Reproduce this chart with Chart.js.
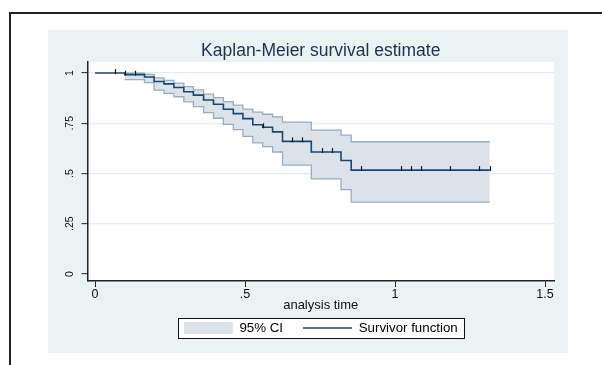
<!DOCTYPE html>
<html>
<head>
<meta charset="utf-8">
<script src="https://cdn.jsdelivr.net/npm/chart.js@4.4.1/dist/chart.umd.min.js"></script>
<style>
html, body { margin: 0; padding: 0; background: #fff; }
#wrap { position: relative; width: 602px; height: 365px; overflow: hidden; }
#frame { position: absolute; left: 9px; top: 12px; width: 700px; height: 500px;
         border-top: 2px solid #222; border-left: 2px solid #222; }
canvas { position: absolute; left: 0; top: 0; }
</style>
</head>
<body>
<div id="wrap">
  <div id="frame"></div>
  <canvas id="km" width="602" height="365"></canvas>
</div>
<script>
// Kaplan-Meier estimate (failure times and survivor values)
const kmTimes = [0, 0.099, 0.165, 0.197, 0.230, 0.263, 0.296, 0.328, 0.362, 0.395, 0.428,
                 0.461, 0.493, 0.526, 0.559, 0.592, 0.625, 0.721, 0.820, 0.854, 1.316];
const kmSurv  = [1, 0.992, 0.980, 0.958, 0.946, 0.928, 0.907, 0.890, 0.866, 0.845, 0.820,
                 0.798, 0.773, 0.743, 0.730, 0.707, 0.660, 0.607, 0.565, 0.517, 0.517];

// 95% CI, starts at first failure
const ciTimes = [0.099, 0.165, 0.197, 0.230, 0.263, 0.296, 0.328, 0.362, 0.395, 0.428,
                 0.461, 0.493, 0.526, 0.559, 0.592, 0.625, 0.721, 0.820, 0.854, 1.316];
const ciUpper = [0.999, 0.993, 0.976, 0.964, 0.950, 0.932, 0.916, 0.895, 0.878, 0.858,
                 0.840, 0.820, 0.806, 0.795, 0.782, 0.756, 0.716, 0.691, 0.658, 0.658];
const ciLower = [0.967, 0.952, 0.915, 0.899, 0.882, 0.857, 0.833, 0.803, 0.775, 0.745,
                 0.718, 0.685, 0.652, 0.634, 0.607, 0.542, 0.473, 0.420, 0.358, 0.358];

// censored observations
const censorTimes = [0.067, 0.099, 0.134, 0.559, 0.657, 0.691, 0.755, 0.789, 0.888,
                     1.019, 1.052, 1.086, 1.184, 1.281, 1.316];

const xTickValues = [0, 0.5, 1, 1.5];
const xTickLabels = ['0', '.5', '1', '1.5'];
const yTickValues = [0, 0.25, 0.5, 0.75, 1];
const yTickLabels = ['0', '.25', '.5', '.75', '1'];

const kmColor = '#1a476f';
const bandFill = '#dce2ea';
const bandLine = '#98adc2';
const panelColor = '#eaf2f3';
const fontName = '"Liberation Sans", Arial, sans-serif';

function toPoints(xs, ys) {
    return xs.map((x, i) => ({ x: x, y: ys[i] }));
}

function survAt(t) {
    let s = kmSurv[0];
    for (let i = 0; i < kmTimes.length; i++) {
        if (kmTimes[i] <= t + 1e-9) s = kmSurv[i];
    }
    return s;
}

function legendBox(chart) {
    const lg = chart.legend;
    if (!lg || !lg.legendHitBoxes || !lg.legendHitBoxes.length) return null;
    const hb = lg.legendHitBoxes;
    const last = hb[hb.length - 1];
    const cy = hb[0].top + hb[0].height / 2;
    const x = hb[0].left - 6;
    return { x: x, y: cy - 10, w: last.left + last.width + 6 - x, h: 20 };
}

// panel backgrounds, censor ticks, legend frame
const stataLook = {
    id: 'stataLook',
    beforeDraw(chart) {
        const { ctx, chartArea: a } = chart;
        ctx.save();
        ctx.fillStyle = panelColor;
        ctx.fillRect(48, 30, 520, 323);
        ctx.fillStyle = '#ffffff';
        ctx.fillRect(a.left, a.top, a.right - a.left, a.bottom - a.top);
        const box = legendBox(chart);
        if (box) ctx.fillRect(box.x, box.y, box.w, box.h);
        ctx.restore();
    },
    afterDatasetsDraw(chart) {
        const { ctx } = chart;
        const xs = chart.scales.x, ys = chart.scales.y;
        ctx.save();
        ctx.strokeStyle = '#101820';
        ctx.lineWidth = 1.2;
        censorTimes.forEach(t => {
            const px = Math.round(xs.getPixelForValue(t)) + 0.5;
            const py = ys.getPixelForValue(survAt(t));
            ctx.beginPath();
            ctx.moveTo(px, py + 1);
            ctx.lineTo(px, py - 4);
            ctx.stroke();
        });
        ctx.restore();
    },
    afterDraw(chart) {
        const box = legendBox(chart);
        if (!box) return;
        const { ctx } = chart;
        ctx.save();
        ctx.strokeStyle = '#111';
        ctx.lineWidth = 1;
        ctx.strokeRect(Math.round(box.x) + 0.5, Math.round(box.y) + 0.5, Math.round(box.w), Math.round(box.h));
        ctx.restore();
    }
};

new Chart(document.getElementById('km'), {
    type: 'line',
    data: {
        datasets: [
            {
                label: 'Survivor function',
                data: toPoints(kmTimes, kmSurv),
                stepped: 'before',
                borderColor: kmColor,
                borderWidth: 1.6,
                pointRadius: 0,
                fill: false
            },
            {
                label: 'upper',
                data: toPoints(ciTimes, ciUpper),
                stepped: 'before',
                borderColor: bandLine,
                borderWidth: 1.3,
                pointRadius: 0,
                fill: false
            },
            {
                label: '95% CI',
                data: toPoints(ciTimes, ciLower),
                stepped: 'before',
                borderColor: bandLine,
                borderWidth: 1.3,
                pointRadius: 0,
                backgroundColor: bandFill,
                fill: '-1'
            }
        ]
    },
    options: {
        responsive: false,
        animation: false,
        events: [],
        layout: { padding: { left: 0, right: 48, top: 30, bottom: 20.35 } },
        scales: {
            x: {
                type: 'linear',
                min: -0.025,
                max: 1.53,
                afterBuildTicks: s => { s.ticks = xTickValues.map(v => ({ value: v })); },
                afterFit: s => { s.height = 20.35; s.paddingLeft = 0; s.paddingRight = 0; },
                ticks: {
                    autoSkip: false, minRotation: 0, maxRotation: 0, padding: 0,
                    color: '#111', font: { family: fontName, size: 12.5 },
                    callback: (v, i) => xTickLabels[i]
                },
                grid: { drawOnChartArea: false, drawTicks: true, tickLength: 6, tickColor: '#222', tickWidth: 1 },
                border: { display: true, color: '#222', width: 1.5 },
                title: {
                    display: true, text: 'analysis time', color: '#111',
                    font: { family: fontName, size: 13 },
                    padding: { top: 0, bottom: -11.45 }
                }
            },
            y: {
                type: 'linear',
                min: -0.035,
                max: 1.055,
                afterBuildTicks: s => { s.ticks = yTickValues.map(v => ({ value: v })); },
                afterFit: s => { s.width = 87.5; s.paddingTop = 0; s.paddingBottom = 0; },
                ticks: {
                    autoSkip: false, minRotation: 90, maxRotation: 90, crossAlign: 'center', padding: 4,
                    color: '#111', font: { family: fontName, size: 10.5 },
                    callback: (v, i) => yTickLabels[i]
                },
                grid: {
                    color: c => (c.tick && c.tick.value === 0) ? 'rgba(0,0,0,0)' : '#e3ecee',
                    lineWidth: 1.3,
                    drawTicks: true, tickLength: 6, tickColor: '#222', tickWidth: 1
                },
                border: { display: true, color: '#222', width: 1.5 }
            }
        },
        plugins: {
            title: {
                display: true,
                fullSize: false,
                text: 'Kaplan-Meier survival estimate',
                color: '#1f3050',
                font: { family: fontName, size: 17.5, weight: 'normal', lineHeight: 1.2 },
                padding: { top: 10.5, bottom: 0.5 }
            },
            legend: {
                display: true,
                position: 'bottom',
                fullSize: false,
                labels: {
                    usePointStyle: true,
                    pointStyleWidth: 49,
                    boxHeight: 12,
                    padding: 20,
                    color: '#111',
                    font: { family: fontName, size: 13.3 },
                    generateLabels: () => [
                        { text: '95% CI', fillStyle: bandFill, strokeStyle: bandFill, lineWidth: 0,
                          pointStyle: 'rect', hidden: false, datasetIndex: 2 },
                        { text: 'Survivor function', fillStyle: kmColor, strokeStyle: kmColor, lineWidth: 1.5,
                          pointStyle: 'line', hidden: false, datasetIndex: 0 }
                    ]
                }
            },
            tooltip: { enabled: false }
        }
    },
    plugins: [stataLook]
});
</script>
</body>
</html>
